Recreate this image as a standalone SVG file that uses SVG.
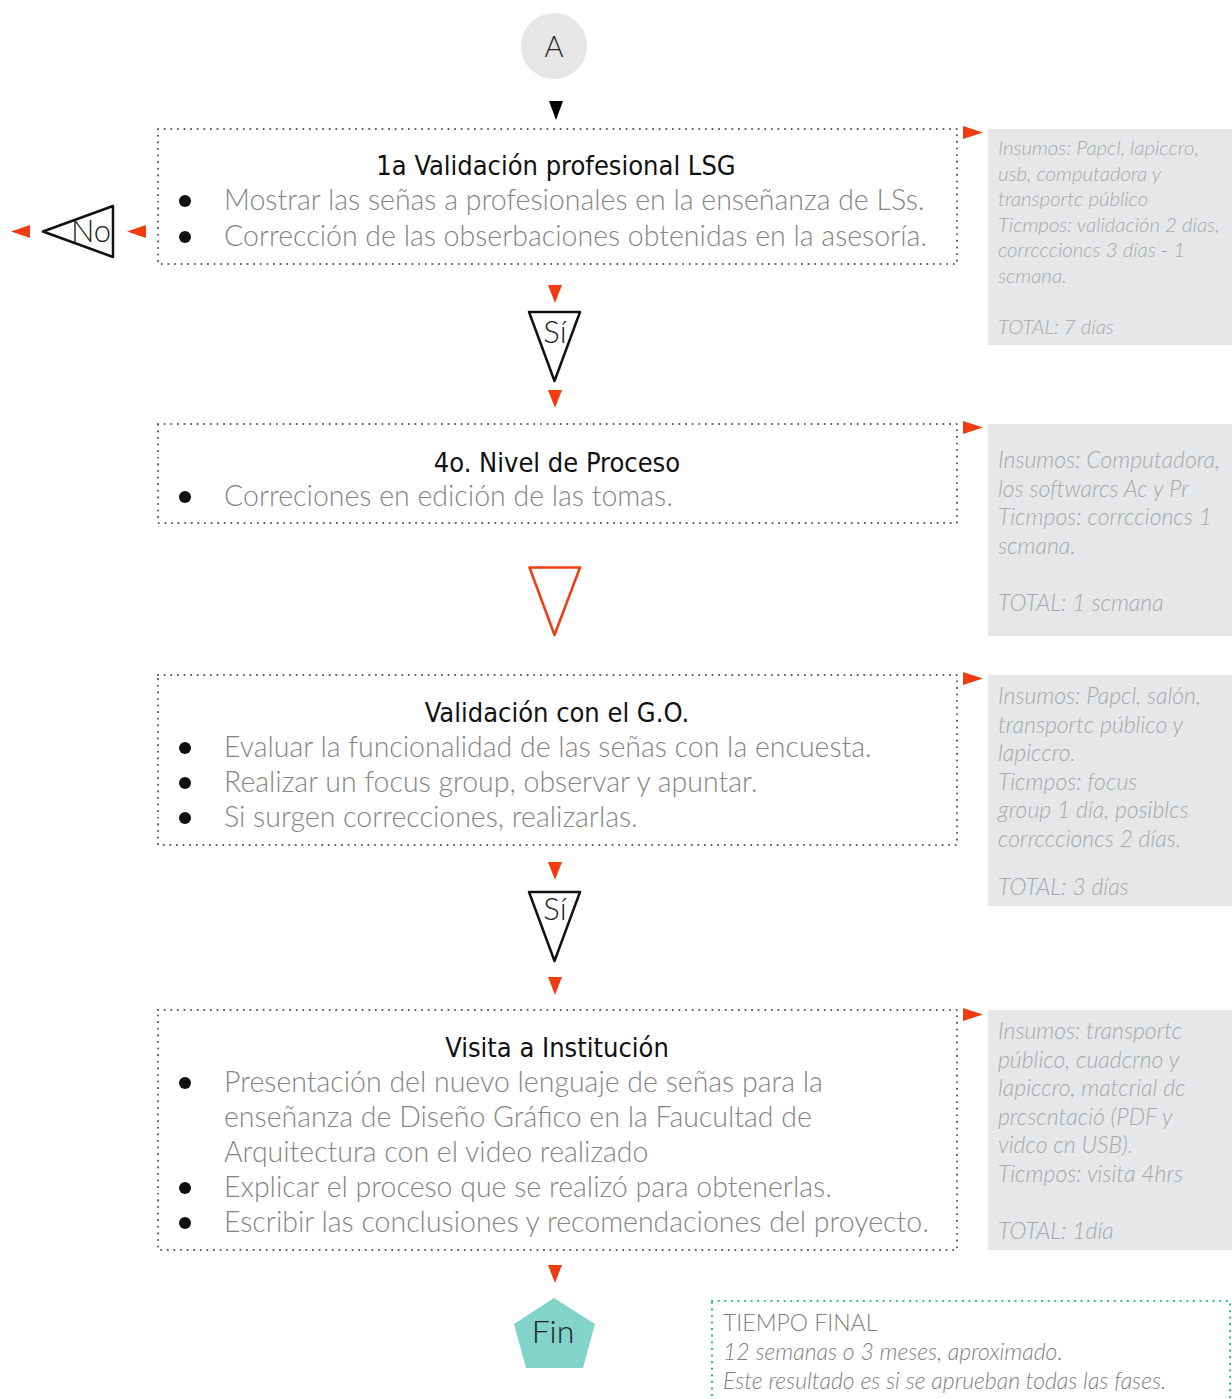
<svg xmlns="http://www.w3.org/2000/svg" width="1232" height="1399" viewBox="0 0 1232 1399">
<defs>
<style>
.box{fill:none;stroke:#555;stroke-width:2;stroke-dasharray:0.1 6.5;stroke-linecap:round}
.fbox{fill:none;stroke:#22b09a;stroke-width:2.2;stroke-dasharray:0.1 6.5;stroke-linecap:round}
.title{font-family:"Liberation Sans Narrow","DejaVu Sans Condensed",sans-serif;font-size:27px;fill:#111;text-anchor:middle}
.body{font-family:Lato,"Liberation Sans",sans-serif;font-weight:300;font-size:28.5px;fill:#858585}
.bul{fill:#111}
.side{fill:#e6e7e8}
.note{font-family:Lato,"Liberation Sans",sans-serif;font-weight:300;font-style:italic;fill:#a5a7aa}
.red{fill:#f03c10}
.tri{fill:#fff;stroke:#111;stroke-width:2.5;stroke-linejoin:round}
.lbl{font-family:Lato,"Liberation Sans",sans-serif;font-weight:300;font-size:31px;fill:#222;text-anchor:middle}
.fin{font-family:Lato,"Liberation Sans",sans-serif;font-weight:300;font-size:23px;fill:#808080}
</style>
</defs>
<g id="connectors">
<polygon points="549,101 563,101 556,120" fill="#000"/>
<polygon class="red" points="548,285 562,285 555,303"/>
<polygon class="red" points="548,390 562,390 555,408"/>
<polygon class="red" points="548,862 562,862 555,880"/>
<polygon class="red" points="548,977 562,977 555,995"/>
<polygon class="red" points="548,1265 562,1265 555,1283"/>
<polygon class="red" points="146,225 146,238 127,231.5"/>
<polygon class="red" points="30,225 30,238 11,231.5"/>
<polygon class="red" points="963,126 963,139 983,132.5"/>
<polygon class="red" points="963,421 963,434 983,427.5"/>
<polygon class="red" points="963,672 963,685 983,678.5"/>
<polygon class="red" points="963,1008 963,1021 983,1014.5"/>
</g>
<g id="start">
<circle cx="554" cy="46" r="33" fill="#e6e6e6"/>
<text class="lbl" x="554" y="57" style="font-size:29px">A</text>
</g>
<g id="box1">
<rect class="box" x="158" y="129" width="799" height="135"/>
<text class="title" x="556" y="175">1a Validación profesional LSG</text>
<circle class="bul" cx="185" cy="201" r="6"/>
<text class="body" x="224" y="210">Mostrar las señas a profesionales en la enseñanza de LSs.</text>
<circle class="bul" cx="185" cy="237" r="6"/>
<text class="body" x="224" y="246">Corrección de las obserbaciones obtenidas en la asesoría.</text>
</g>
<g id="note1">
<rect class="side" x="988" y="129" width="244" height="216"/>
<text class="note" style="font-size:20.4px">
<tspan x="998" y="155">Insumos: Papcl, lapiccro,</tspan>
<tspan x="998" y="180.5">usb, computadora y</tspan>
<tspan x="998" y="206">transportc público</tspan>
<tspan x="998" y="231.5">Ticmpos: validación 2 días,</tspan>
<tspan x="998" y="257">corrcccioncs 3 días - 1</tspan>
<tspan x="998" y="282.5">scmana.</tspan>
<tspan x="998" y="334">TOTAL: 7 días</tspan>
</text>
</g>
<g id="no">
<polygon class="tri" points="113,206 113,257 43,231.5"/>
<text class="lbl" x="91" y="242">No</text>
</g>
<g id="si1">
<polygon class="tri" points="529,312 580,312 554.5,381"/>
<text class="lbl" x="555" y="343">Sí</text>
</g>
<g id="box2">
<rect class="box" x="158" y="424" width="799" height="99"/>
<text class="title" x="557" y="472">4o. Nivel de Proceso</text>
<circle class="bul" cx="185" cy="497" r="6"/>
<text class="body" x="224" y="506">Correciones en edición de las tomas.</text>
</g>
<g id="note2">
<rect class="side" x="988" y="424" width="244" height="212"/>
<text class="note" style="font-size:23px">
<tspan x="998" y="468">Insumos: Computadora,</tspan>
<tspan x="998" y="496.5">los softwarcs Ac y Pr</tspan>
<tspan x="998" y="525">Ticmpos: corrccioncs 1</tspan>
<tspan x="998" y="553.5">scmana.</tspan>
<tspan x="998" y="611">TOTAL: 1 scmana</tspan>
</text>
</g>
<g id="red-tri">
<polygon points="529.5,567.5 580,567.5 554.5,635" fill="#fff" stroke="#f03c10" stroke-width="2.5" stroke-linejoin="round"/>
</g>
<g id="box3">
<rect class="box" x="158" y="675" width="799" height="170"/>
<text class="title" x="557" y="722">Validación con el G.O.</text>
<circle class="bul" cx="185" cy="748" r="6"/>
<text class="body" x="224" y="757">Evaluar la funcionalidad de las señas con la encuesta.</text>
<circle class="bul" cx="185" cy="783" r="6"/>
<text class="body" x="224" y="792">Realizar un focus group, observar y apuntar.</text>
<circle class="bul" cx="185" cy="818" r="6"/>
<text class="body" x="224" y="827">Si surgen correcciones, realizarlas.</text>
</g>
<g id="note3">
<rect class="side" x="988" y="675" width="244" height="231"/>
<text class="note" style="font-size:23px">
<tspan x="998" y="704">Insumos: Papcl, salón,</tspan>
<tspan x="998" y="732.5">transportc público y</tspan>
<tspan x="998" y="761">lapiccro.</tspan>
<tspan x="998" y="789.5">Ticmpos: focus</tspan>
<tspan x="998" y="818">group 1 día, posiblcs</tspan>
<tspan x="998" y="846.5">corrcccioncs 2 días.</tspan>
<tspan x="998" y="895">TOTAL: 3 días</tspan>
</text>
</g>
<g id="si2">
<polygon class="tri" points="529,892 580,892 554.5,961"/>
<text class="lbl" x="555" y="920">Sí</text>
</g>
<g id="box4">
<rect class="box" x="158" y="1010" width="799" height="240"/>
<text class="title" x="557" y="1057">Visita a Institución</text>
<circle class="bul" cx="185" cy="1083" r="6"/>
<text class="body" x="224" y="1092">Presentación del nuevo lenguaje de señas para la</text>
<text class="body" x="224" y="1127">enseñanza de Diseño Gráfico en la Faucultad de</text>
<text class="body" x="224" y="1162">Arquitectura con el video realizado</text>
<circle class="bul" cx="185" cy="1188" r="6"/>
<text class="body" x="224" y="1197">Explicar el proceso que se realizó para obtenerlas.</text>
<circle class="bul" cx="185" cy="1223" r="6"/>
<text class="body" x="224" y="1232">Escribir las conclusiones y recomendaciones del proyecto.</text>
</g>
<g id="note4">
<rect class="side" x="988" y="1010" width="244" height="240"/>
<text class="note" style="font-size:23px">
<tspan x="998" y="1039">Insumos: transportc</tspan>
<tspan x="998" y="1067.5">público, cuadcrno y</tspan>
<tspan x="998" y="1096">lapiccro, matcrial dc</tspan>
<tspan x="998" y="1124.5">prcscntació (PDF y</tspan>
<tspan x="998" y="1153">vidco cn USB).</tspan>
<tspan x="998" y="1181.5">Ticmpos: visita 4hrs</tspan>
<tspan x="998" y="1239">TOTAL: 1día</tspan>
</text>
</g>
<g id="fin">
<polygon points="554,1298 595,1324 583,1368 526,1368 514,1324" fill="#82d3ca"/>
<text class="lbl" x="553" y="1343" style="font-size:32px">Fin</text>
</g>
<g id="tiempo-final">
<rect class="fbox" x="712" y="1301" width="518" height="100"/>
<text class="fin" x="723" y="1331">TIEMPO FINAL</text>
<text class="fin" x="723" y="1360" font-style="italic">12 semanas o 3 meses, aproximado.</text>
<text class="fin" x="723" y="1389" font-style="italic">Este resultado es si se aprueban todas las fases.</text>
</g>
</svg>
